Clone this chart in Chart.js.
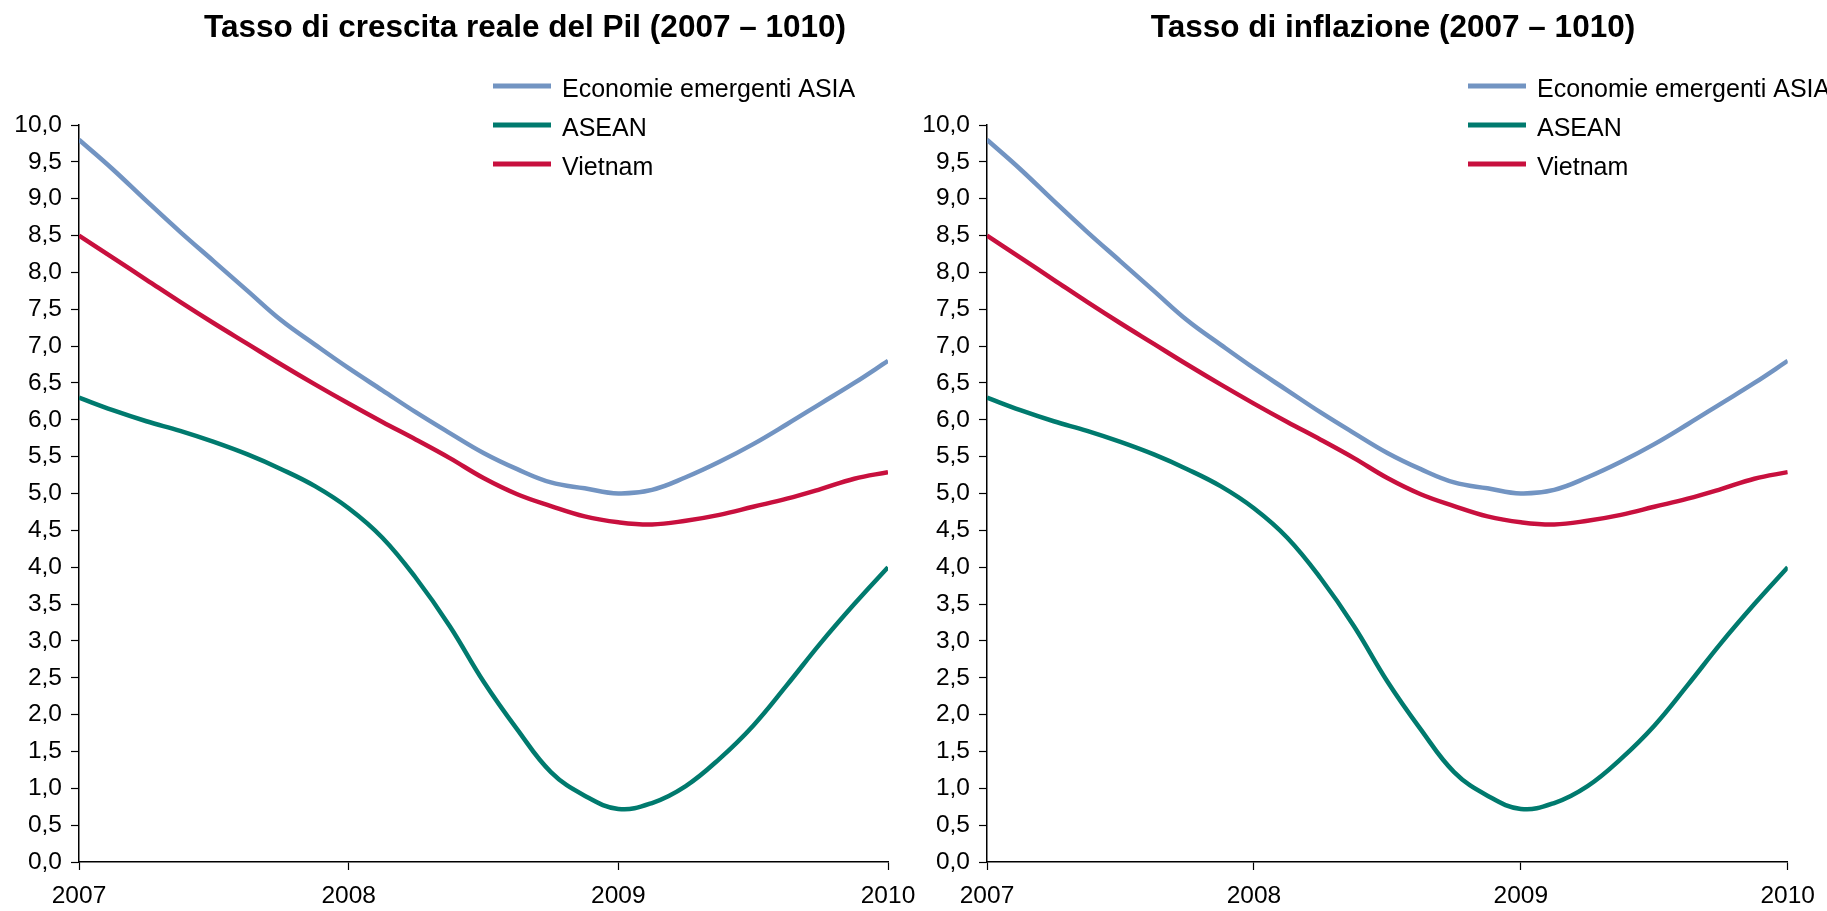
<!DOCTYPE html>
<html>
<head>
<meta charset="utf-8">
<script src="https://cdn.jsdelivr.net/npm/chart.js@4/dist/chart.umd.min.js"></script>
<style>
  html, body { margin: 0; padding: 0; background: #fff; overflow: hidden; }
  body { width: 1827px; height: 911px; position: relative; }
  canvas { position: absolute; top: 0; }
  #chartPil { left: 0; }
  #chartInfl { left: 900px; }
</style>
</head>
<body>
<canvas id="chartInfl" width="927" height="911"></canvas>
<canvas id="chartPil" width="960" height="911"></canvas>
<script>
// x positions (years), read every 1/8 of a year
const years = [2007, 2007.125, 2007.25, 2007.375, 2007.5, 2007.625, 2007.75, 2007.875,
  2008, 2008.125, 2008.25, 2008.375, 2008.5, 2008.625, 2008.75, 2008.875,
  2009, 2009.125, 2009.25, 2009.375, 2009.5, 2009.625, 2009.75, 2009.875, 2010];

const seriesLabels = ["Economie emergenti ASIA", "ASEAN", "Vietnam"];
const seriesColors = ["#7294C2", "#007A6E", "#C8103E"];

const asia = [9.8, 9.4, 8.97, 8.55, 8.15, 7.75, 7.35, 7.02,
  6.7, 6.4, 6.1, 5.82, 5.55, 5.33, 5.15, 5.07,
  5.0, 5.05, 5.22, 5.43, 5.67, 5.94, 6.22, 6.5, 6.8];
const asean = [6.3, 6.13, 5.98, 5.85, 5.7, 5.53, 5.33, 5.1,
  4.8, 4.4, 3.85, 3.2, 2.45, 1.8, 1.22, 0.9,
  0.72, 0.8, 1.03, 1.4, 1.85, 2.4, 2.97, 3.5, 4.0];
const vietnam = [8.5, 8.2, 7.9, 7.6, 7.31, 7.03, 6.75, 6.48,
  6.22, 5.97, 5.73, 5.48, 5.21, 4.99, 4.83, 4.69,
  4.61, 4.58, 4.63, 4.71, 4.82, 4.93, 5.06, 5.2, 5.29];

const xTicks = [2007, 2008, 2009, 2010];
const yMin = 0, yMax = 10, yStep = 0.5;

const FONT = "'Liberation Sans', Arial, sans-serif";
Chart.defaults.font.family = FONT;
Chart.defaults.color = "#000";

// title + legend drawn at fixed spots, like the original sheet
const panelDecor = {
  id: "panelDecor",
  afterDraw(chart, args, opts) {
    const ctx = chart.ctx;
    ctx.save();
    ctx.fillStyle = "#000";
    ctx.font = "bold 31.5px " + FONT;
    ctx.textAlign = "center";
    ctx.textBaseline = "alphabetic";
    ctx.fillText(opts.title, opts.titleX, 37);

    ctx.font = "25px " + FONT;
    ctx.textAlign = "left";
    chart.data.datasets.forEach((ds, i) => {
      const y = 86 + i * 39;
      ctx.strokeStyle = ds.borderColor;
      ctx.lineWidth = 5;
      ctx.lineCap = "butt";
      ctx.beginPath();
      ctx.moveTo(opts.legendX, y);
      ctx.lineTo(opts.legendX + 58, y);
      ctx.stroke();
      ctx.fillText(ds.label, opts.legendX + 69, y + 11);
    });
    ctx.restore();
  },
};

const makeDatasets = () => {
  const values = [asia, asean, vietnam];
  return values.map((vals, i) => ({
    label: seriesLabels[i],
    data: years.map((x, j) => ({ x: x, y: vals[j] })),
    borderColor: seriesColors[i],
    backgroundColor: seriesColors[i],
    borderWidth: 4.5,
    pointRadius: 0,
    tension: 0.4,
    fill: false,
  }));
};

const renderChart = (id, cfg) => {
  const ctx = document.getElementById(id).getContext("2d");
  return new Chart(ctx, {
    type: "line",
    data: { datasets: makeDatasets() },
    plugins: [panelDecor],
    options: {
      responsive: false,
      animation: false,
      layout: { padding: { top: 125, right: cfg.padRight, bottom: 0, left: 0 } },
      plugins: {
        legend: { display: false },
        title: { display: false },
        tooltip: { enabled: false },
        panelDecor: { title: cfg.title, titleX: cfg.titleX, legendX: cfg.legendX },
      },
      scales: {
        x: {
          type: "linear",
          min: 2007,
          max: 2010,
          afterBuildTicks: (scale) => {
            scale.ticks = xTicks.map((v) => ({ value: v }));
          },
          afterFit: (scale) => { scale.height = 49; },
          grid: { drawOnChartArea: false, tickLength: 8, tickColor: "#000", tickWidth: 1.2 },
          border: { display: true, color: "#000", width: 1.5 },
          ticks: {
            font: { size: 24.5 },
            padding: 12,
            maxRotation: 0,
            autoSkip: false,
            callback: (v) => String(v),
          },
        },
        y: {
          min: yMin,
          max: yMax,
          afterFit: (scale) => { scale.width = cfg.axisWidth; },
          grid: { drawOnChartArea: false, tickLength: 8, tickColor: "#000", tickWidth: 1.2 },
          border: { display: true, color: "#000", width: 1.5 },
          ticks: {
            stepSize: yStep,
            autoSkip: false,
            font: { size: 24.5 },
            padding: 9,
            callback: (v) => v.toFixed(1).replace(".", ","),
          },
        },
      },
    },
  });
};

renderChart("chartPil", {
  title: "Tasso di crescita reale del Pil (2007 \u2013 1010)",
  titleX: 525,
  legendX: 493,
  axisWidth: 79,
  padRight: 72,
});

renderChart("chartInfl", {
  title: "Tasso di inflazione (2007 \u2013 1010)",
  titleX: 493,
  legendX: 568,
  axisWidth: 87,
  padRight: 33,
});
</script>
</body>
</html>
